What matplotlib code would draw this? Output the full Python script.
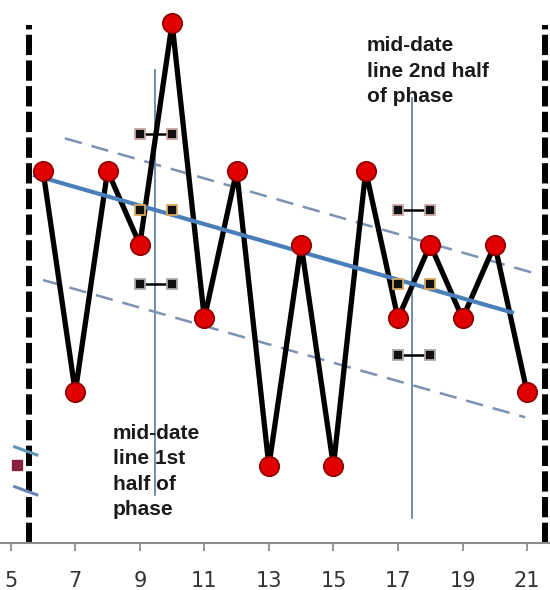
import matplotlib
matplotlib.use("Agg")
import matplotlib.pyplot as plt
import numpy as np

# daily values for this phase
days = [6, 7, 8, 9, 10, 11, 12, 13, 14, 15, 16, 17, 18, 19, 20, 21]
values = [6, 3, 6, 5, 8, 4, 6, 2, 5, 2, 6, 4, 5, 4, 5, 3]

# trend line and its band
trend_x = [5.75, 20.53]
trend_y = [5.937, 4.081]
upper_x = [6.68, 21.40]
upper_y = [6.44, 4.59]
lower_x = [6.00, 20.94]
lower_y = [4.52, 2.66]

# mid-date lines and the +/- markers at them
mid_dates = [9.47, 17.43]
mid_top = [7.37, 6.99]
mid_bottom = [1.61, 1.30]
band_x = [[9, 10], [17, 18]]
band_hi = [6.5, 5.47]
band_mid = [5.47, 4.47]
band_lo = [4.47, 3.5]

# phase boundaries
phase_edges = [5.57, 21.55]
edge_top = 7.98

# pieces of the previous phase showing at the left
prev_x = [5.12, 5.81]
prev_upper = [2.26, 2.15]
prev_lower = [1.72, 1.61]
prev_point = (5.18, 2.01)

xticks = [5, 7, 9, 11, 13, 15, 17, 19, 21]

fig = plt.figure(figsize=(5.5, 5.9), dpi=100)
ax = fig.add_axes([0, 47 / 590, 1, 543 / 590])
ax.set_xlim(4.667, 21.711)
ax.set_ylim(0.957, 8.314)

# phase boundaries
for xe in phase_edges:
    ax.plot([xe, xe], [0.957, edge_top], color="black", lw=4.3,
            dashes=(3.4, 0.9), solid_capstyle="butt", zorder=2, clip_on=False)

# previous phase leftovers
ax.plot(prev_x, prev_upper, color="#5e98b8", lw=2.2, zorder=2)
ax.plot(prev_x, prev_lower, color="#6a86b8", lw=2.2, zorder=2)
ax.plot(*prev_point, marker="s", ms=7, color="#8a2040", zorder=2)

# mid-date lines
for xm, t, b in zip(mid_dates, mid_top, mid_bottom):
    ax.plot([xm, xm], [b, t], color="#5b7aa0", lw=1.2, zorder=3)

# band lines
ax.plot(upper_x, upper_y, color="#7d92b2", lw=1.8, dashes=(7, 4), zorder=3)
ax.plot(lower_x, lower_y, color="#7d92b2", lw=1.8, dashes=(7, 4), zorder=3)

# the data
ax.plot(days, values, color="black", lw=3.8, zorder=4)
ax.plot(days, values, ls="none", marker="o", ms=14, mfc="#e00000",
        mec="#8b0000", mew=1.2, zorder=6)

# trend
ax.plot(trend_x, trend_y, color="#4a7ebb", lw=3, zorder=5)

# band markers
for bx, hi, mid, lo in zip(band_x, band_hi, band_mid, band_lo):
    ax.plot(bx, [hi, hi], color="black", lw=1.8, marker="s", ms=7,
            mfc="#111111", mec="#c9a7a7", mew=1.3, zorder=7)
    ax.plot(bx, [mid, mid], ls="none", marker="s", ms=7,
            mfc="#111111", mec="#d8a860", mew=1.3, zorder=7)
    ax.plot(bx, [lo, lo], color="black", lw=1.8, marker="s", ms=7,
            mfc="#111111", mec="#b0a8a8", mew=1.3, zorder=7)

txt = dict(fontsize=15, fontweight="bold", family="Liberation Sans",
           color="#1a1a1a", ha="left", va="top", linespacing=1.42, zorder=8)
ax.text(8.17, 2.57, "mid-date\nline 1st\nhalf of\nphase", **txt)
ax.text(16.04, 7.82, "mid-date\nline 2nd half\nof phase", **txt)

for s in ["top", "left", "right"]:
    ax.spines[s].set_visible(False)
ax.spines["bottom"].set_color("#8c8c8c")
ax.spines["bottom"].set_linewidth(1.5)
ax.set_yticks([])
ax.set_xticks(xticks)
ax.set_xticklabels([str(t) for t in xticks])
ax.tick_params(axis="x", direction="out", length=6, width=1.3,
               color="#8c8c8c", labelsize=15, labelcolor="#333333", pad=14)

fig.savefig("out.png", dpi=100)
